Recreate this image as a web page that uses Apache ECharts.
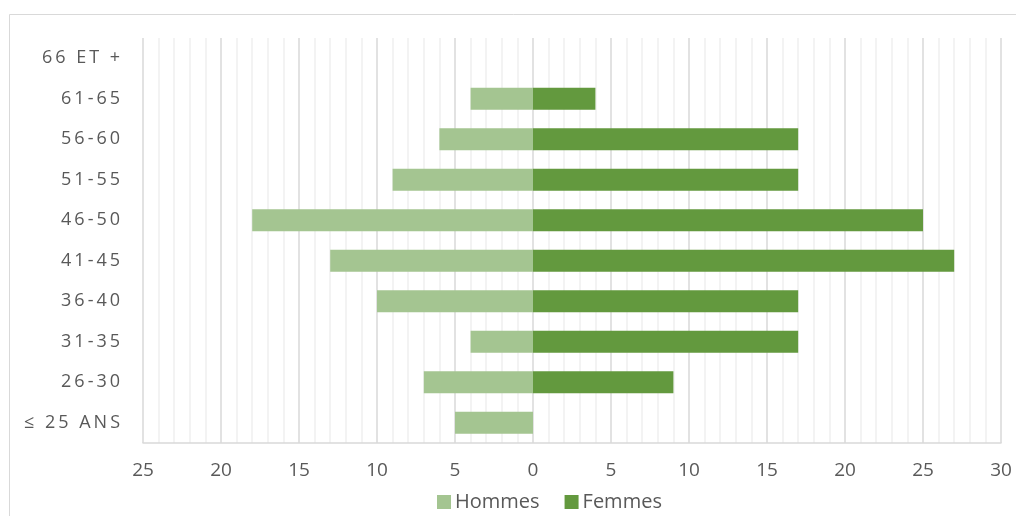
<!DOCTYPE html>
<html>
<head>
<meta charset="utf-8">
<script src="https://cdn.jsdelivr.net/npm/echarts@6/dist/echarts.min.js"></script>
<style>
  html, body { margin: 0; padding: 0; background: #fff; }
  #chart { width: 1016px; height: 516px; }
</style>
</head>
<body>
<div id="chart"></div>
<script>
// Age groups, bottom to top
const ageGroups = ['≤ 25 ANS', '26-30', '31-35', '36-40', '41-45', '46-50', '51-55', '56-60', '61-65', '66 ET +'];
// Headcount per age group
const hommes = [5, 7, 4, 10, 13, 18, 9, 6, 4, 0];
const femmes = [0, 9, 17, 17, 27, 25, 17, 17, 4, 0];
const seriesNames = ['Hommes', 'Femmes'];

const textColor = '#595959';
const fontFamily = '"Open Sans", "DejaVu Sans", sans-serif';

// spaced-out lettering for the age group labels
const spaced = s => s.split('').join('\u2009');

const chart = echarts.init(document.getElementById('chart'), null, { renderer: 'canvas' });

chart.setOption({
  animation: false,
  backgroundColor: '#ffffff',
  graphic: [{
    type: 'rect',
    left: 7, top: 12,
    shape: { width: 1100, height: 600 },
    style: { fill: 'none', stroke: '#d9d9d9', lineWidth: 1 },
    silent: true,
    z: -10
  }],
  grid: { left: 143, right: 15, top: 38, bottom: 73, containLabel: false },
  legend: {
    data: seriesNames,
    left: 432,
    top: 487,
    icon: 'rect',
    itemWidth: 14,
    itemHeight: 14,
    itemGap: 25,
    textStyle: { color: textColor, fontSize: 20, fontFamily: fontFamily, padding: [0, 0, 0, -1] }
  },
  xAxis: {
    type: 'value',
    min: -25,
    max: 30,
    interval: 5,
    axisLine: { show: true, lineStyle: { color: '#d9d9d9', width: 1.5 } },
    axisTick: { show: false },
    axisLabel: {
      color: textColor,
      fontSize: 19,
      fontFamily: fontFamily,
      margin: 18,
      formatter: v => String(Math.abs(v))
    },
    splitLine: { show: true, lineStyle: { color: '#d9d9d9', width: 1.5 } },
    minorTick: { show: false, splitNumber: 5 },
    minorSplitLine: { show: true, lineStyle: { color: '#efefef', width: 1.5 } }
  },
  yAxis: {
    type: 'category',
    data: ageGroups,
    axisLine: { show: false },
    axisTick: { show: false },
    axisLabel: {
      color: textColor,
      fontSize: 18,
      fontFamily: fontFamily,
      margin: 23,
      formatter: v => spaced(v)
    }
  },
  series: [
    {
      name: seriesNames[0],
      type: 'bar',
      data: hommes.map(v => -v),
      barWidth: 22,
      barGap: '-100%',
      itemStyle: { color: '#a4c591' }
    },
    {
      name: seriesNames[1],
      type: 'bar',
      data: femmes,
      barWidth: 22,
      barGap: '-100%',
      itemStyle: { color: '#63993e' }
    }
  ]
});
</script>
</body>
</html>
